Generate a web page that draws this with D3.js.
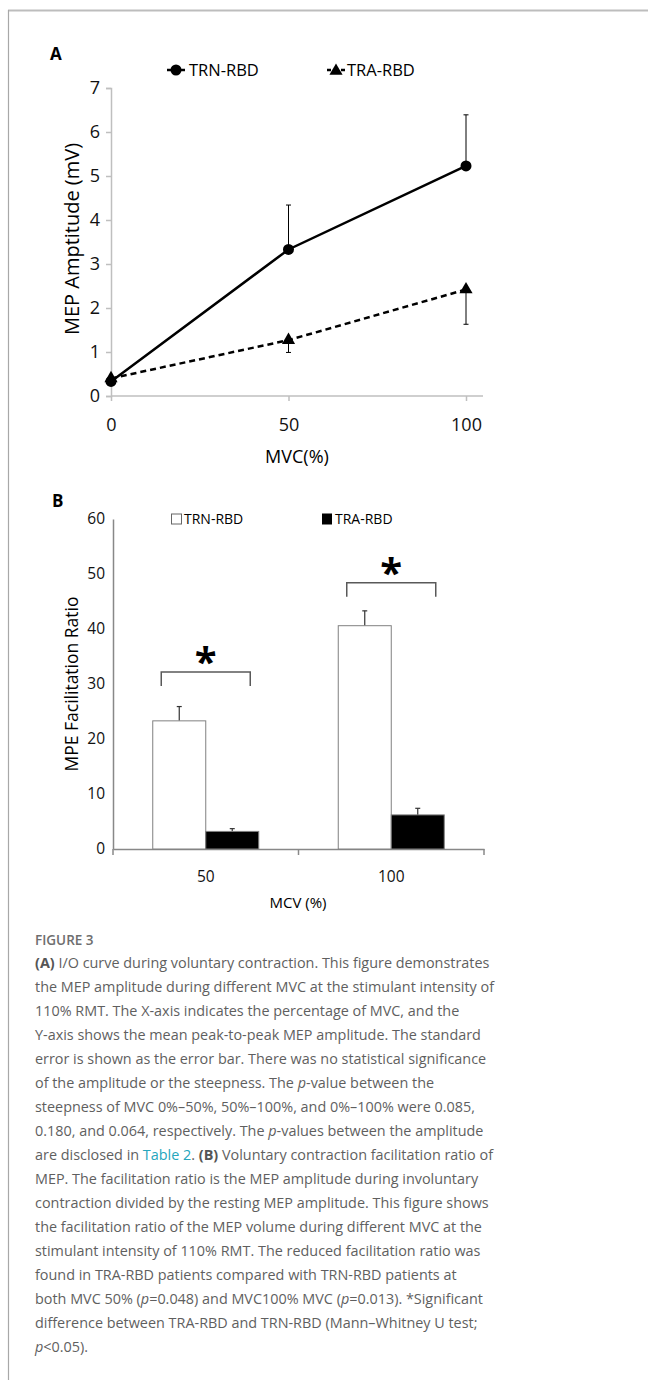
<!DOCTYPE html>
<html>
<head>
<meta charset="utf-8">
<script src="https://cdn.jsdelivr.net/npm/d3@7"></script>
<style>
  body { margin: 0; background: #fff; }
  svg { display: block; }
</style>
</head>
<body>
<div id="chart"></div>
<script>
// Panel A: MEP amplitude (mV) by MVC (%)
const mvcLevels = [0, 50, 100];
const trnAmp = [0.33, 3.33, 5.23];
const trnAmpErr = [0.08, 1.01, 1.16];
const traAmp = [0.40, 1.27, 2.42];
const traAmpErr = [0.08, 0.28, 0.79];
const ampTicks = [0, 1, 2, 3, 4, 5, 6, 7];

// Panel B: facilitation ratio by MCV (%)
const mcvGroups = ['50', '100'];
const groupNames = ['TRN-RBD', 'TRA-RBD'];
const trnRatio = [23.3, 40.6];
const trnRatioErr = [2.6, 2.7];
const traRatio = [3.2, 6.2];
const traRatioErr = [0.5, 1.2];
const ratioTicks = [0, 10, 20, 30, 40, 50, 60];
const bracketLevels = [32.2, 48.4];

const captionLines = [
  [['(A)', 'b'], [' I/O curve during voluntary contraction. This figure demonstrates']],
  [['the MEP amplitude during different MVC at the stimulant intensity of']],
  [['110% RMT. The X-axis indicates the percentage of MVC, and the']],
  [['Y-axis shows the mean peak-to-peak MEP amplitude. The standard']],
  [['error is shown as the error bar. There was no statistical significance']],
  [['of the amplitude or the steepness. The '], ['p', 'i'], ['-value between the']],
  [['steepness of MVC 0%\u201350%, 50%\u2013100%, and 0%\u2013100% were 0.085,']],
  [['0.180, and 0.064, respectively. The '], ['p', 'i'], ['-values between the amplitude']],
  [['are disclosed in '], ['Table 2', 'link'], ['. '], ['(B)', 'b'], [' Voluntary contraction facilitation ratio of']],
  [['MEP. The facilitation ratio is the MEP amplitude during involuntary']],
  [['contraction divided by the resting MEP amplitude. This figure shows']],
  [['the facilitation ratio of the MEP volume during different MVC at the']],
  [['stimulant intensity of 110% RMT. The reduced facilitation ratio was']],
  [['found in TRA-RBD patients compared with TRN-RBD patients at']],
  [['both MVC 50% ('], ['p', 'i'], ['=0.048) and MVC100% MVC ('], ['p', 'i'], ['=0.013). *Significant']],
  [['difference between TRA-RBD and TRN-RBD (Mann\u2013Whitney U test;']],
  [['p', 'i'], ['<0.05).']]
];

const font = "'Open Sans', sans-serif";
const svg = d3.select('#chart').append('svg')
    .attr('width', 648)
    .attr('height', 1380)
    .style('font-family', font);

// frame
svg.append('line')
    .attr('x1', 8).attr('x2', 648).attr('y1', 10.5).attr('y2', 10.5)
    .attr('stroke', '#bdbdbd').attr('stroke-width', 2);
svg.append('line')
    .attr('x1', 8.5).attr('x2', 8.5).attr('y1', 10).attr('y2', 1380)
    .attr('stroke', '#a8a8a8').attr('stroke-width', 1.2);

// ---------- Panel A ----------
const xA = d3.scaleLinear().domain([0, 100]).range([111, 466]);
const yA = d3.scaleLinear().domain([0, 7]).range([396, 88]);
const gA = svg.append('g');

gA.append('text')
    .attr('x', 50).attr('y', 60)
    .attr('font-size', 17).attr('font-weight', 'bold')
    .text('A');

const axA_x = gA.append('g')
    .attr('transform', `translate(0,${yA(0)})`)
    .call(d3.axisBottom(xA).tickValues(mvcLevels).tickSize(5).tickPadding(17));
axA_x.select('.domain').remove();
gA.append('line')
    .attr('x1', xA(0)).attr('x2', xA(104.8))
    .attr('y1', yA(0)).attr('y2', yA(0))
    .attr('stroke', '#bfbfbf').attr('stroke-width', 1.5);

const axA_y = gA.append('g')
    .attr('transform', `translate(${xA(0)},0)`)
    .call(d3.axisLeft(yA).tickValues(ampTicks).tickSize(5).tickPadding(6).tickFormat(d3.format('d')));

[axA_x, axA_y].forEach(ax => {
    ax.selectAll('line').attr('stroke', '#bfbfbf').attr('stroke-width', 1.5);
    ax.selectAll('path').attr('stroke', '#bfbfbf').attr('stroke-width', 1.5);
    ax.selectAll('text').attr('font-size', 18).attr('fill', '#111').style('font-family', font);
});

gA.append('text')
    .attr('transform', 'translate(72,239) rotate(-90)')
    .attr('text-anchor', 'middle')
    .attr('dy', '0.35em')
    .attr('font-size', 20)
    .text('MEP Amptitude (mV)');

gA.append('text')
    .attr('x', 297).attr('y', 457)
    .attr('text-anchor', 'middle')
    .attr('dy', '0.35em')
    .attr('font-size', 18)
    .text('MVC(%)');

const lineA = d3.line()
    .x((d, i) => xA(mvcLevels[i]))
    .y(d => yA(d));

// error bars (TRN up, TRA down)
function errBars(vals, errs, dir) {
    vals.forEach((v, i) => {
        const x = xA(mvcLevels[i]);
        const y2 = yA(v + dir * errs[i]);
        gA.append('line')
            .attr('x1', x).attr('x2', x).attr('y1', yA(v)).attr('y2', y2)
            .attr('stroke', '#000').attr('stroke-width', 1);
        gA.append('line')
            .attr('x1', x - 2.5).attr('x2', x + 2.5).attr('y1', y2).attr('y2', y2)
            .attr('stroke', '#000').attr('stroke-width', 1);
    });
}
errBars(trnAmp, trnAmpErr, 1);
errBars(traAmp, traAmpErr, -1);

gA.append('path')
    .datum(traAmp)
    .attr('d', lineA)
    .attr('fill', 'none')
    .attr('stroke', '#000')
    .attr('stroke-width', 2.5)
    .attr('stroke-dasharray', '6,4');

gA.append('path')
    .datum(trnAmp)
    .attr('d', lineA)
    .attr('fill', 'none')
    .attr('stroke', '#000')
    .attr('stroke-width', 2.5);

const tri = d3.symbol().type(d3.symbolTriangle).size(75);
gA.selectAll('.tra-pt')
    .data(traAmp)
    .join('path')
    .attr('class', 'tra-pt')
    .attr('transform', (d, i) => `translate(${xA(mvcLevels[i])},${yA(d)})`)
    .attr('d', tri)
    .attr('fill', '#000');

gA.selectAll('.trn-pt')
    .data(trnAmp)
    .join('circle')
    .attr('class', 'trn-pt')
    .attr('cx', (d, i) => xA(mvcLevels[i]))
    .attr('cy', d => yA(d))
    .attr('r', 5.5)
    .attr('fill', '#000');

// legend A
const legA = gA.append('g').attr('transform', 'translate(0,70)');
legA.append('line').attr('x1', 167).attr('x2', 185).attr('stroke', '#000').attr('stroke-width', 2.5);
legA.append('circle').attr('cx', 176).attr('r', 5.5).attr('fill', '#000');
legA.append('text').attr('x', 189).attr('dy', '0.35em').attr('font-size', 16.5).text(groupNames[0]);
legA.append('line').attr('x1', 327).attr('x2', 345).attr('stroke', '#000').attr('stroke-width', 2.5)
    .attr('stroke-dasharray', '4,10');
legA.append('path').attr('transform', 'translate(336,1)').attr('d', tri).attr('fill', '#000');
legA.append('text').attr('x', 347).attr('dy', '0.35em').attr('font-size', 16.5).text(groupNames[1]);

// ---------- Panel B ----------
const xB = d3.scaleBand().domain(mcvGroups).range([113, 484]);
const bw = xB.bandwidth();
const xSub = d3.scaleBand().domain(groupNames).range([bw / 2 - 53, bw / 2 + 53]);
const yB = d3.scaleLinear().domain([0, 60]).range([849, 519]);
const gB = svg.append('g');

gB.append('text')
    .attr('x', 52).attr('y', 507)
    .attr('font-size', 17).attr('font-weight', 'bold')
    .text('B');

const axB_y = gB.append('g')
    .attr('transform', `translate(113,0)`)
    .call(d3.axisLeft(yB).tickValues(ratioTicks).tickSize(0).tickPadding(8).tickSizeOuter(0));
axB_y.select('.domain').attr('stroke', '#888').attr('stroke-width', 1.5);
axB_y.selectAll('text').attr('font-size', 15.5).attr('fill', '#111').style('font-family', font);

const axB_x = gB.append('g')
    .attr('transform', `translate(0,${yB(0)})`)
    .call(d3.axisBottom(xB).tickSize(0).tickPadding(21.5).tickSizeOuter(0));
axB_x.select('.domain').attr('stroke', '#888').attr('stroke-width', 1.5);
axB_x.selectAll('text').attr('font-size', 15.5).attr('fill', '#111').style('font-family', font);
// category separators as tick marks
const sepVals = [113, 113 + bw, 113 + 2 * bw];
axB_x.selectAll('.sep')
    .data(sepVals)
    .join('line')
    .attr('class', 'sep')
    .attr('x1', d => d).attr('x2', d => d)
    .attr('y1', 0).attr('y2', 6)
    .attr('stroke', '#888').attr('stroke-width', 1.5);

gB.append('text')
    .attr('transform', 'translate(72,684) rotate(-90)')
    .attr('text-anchor', 'middle')
    .attr('dy', '0.35em')
    .attr('font-size', 17.5)
    .text('MPE Facilitation Ratio');

gB.append('text')
    .attr('x', 298).attr('y', 903)
    .attr('text-anchor', 'middle')
    .attr('dy', '0.35em')
    .attr('font-size', 15)
    .text('MCV (%)');

const barData = [];
mcvGroups.forEach((g, i) => {
    barData.push({g, s: groupNames[0], v: trnRatio[i], e: trnRatioErr[i], fill: '#fff'});
    barData.push({g, s: groupNames[1], v: traRatio[i], e: traRatioErr[i], fill: '#000'});
});

// error bars drawn first so the bar covers the stem base
barData.forEach(d => {
    const cx = xB(d.g) + xSub(d.s) + xSub.bandwidth() / 2;
    const yTop = yB(d.v + d.e);
    gB.append('line')
        .attr('x1', cx).attr('x2', cx).attr('y1', yB(d.v)).attr('y2', yTop)
        .attr('stroke', '#333').attr('stroke-width', 1.2);
    gB.append('line')
        .attr('x1', cx - 2.5).attr('x2', cx + 2.5).attr('y1', yTop).attr('y2', yTop)
        .attr('stroke', '#333').attr('stroke-width', 1.2);
});

gB.selectAll('.bar')
    .data(barData)
    .join('rect')
    .attr('class', 'bar')
    .attr('x', d => xB(d.g) + xSub(d.s))
    .attr('y', d => yB(d.v))
    .attr('width', xSub.bandwidth())
    .attr('height', d => yB(0) - yB(d.v))
    .attr('fill', d => d.fill)
    .attr('stroke', '#808080')
    .attr('stroke-width', 1);

// significance brackets
mcvGroups.forEach((g, i) => {
    const cx = xB(g) + bw / 2;
    const yb = yB(bracketLevels[i]);
    gB.append('path')
        .attr('d', `M${cx - 44.5},${yb + 14}V${yb}H${cx + 44.5}V${yb + 14}`)
        .attr('fill', 'none')
        .attr('stroke', '#595959')
        .attr('stroke-width', 1.5);
    gB.append('text')
        .attr('x', cx).attr('y', yb + 4)
        .attr('text-anchor', 'middle')
        .attr('font-size', 40)
        .attr('font-weight', 'bold')
        .text('*');
});

// legend B
const legB = gB.append('g').attr('transform', 'translate(0,519)');
legB.append('rect').attr('x', 171.5).attr('y', -5).attr('width', 10).attr('height', 10)
    .attr('fill', '#fff').attr('stroke', '#666').attr('stroke-width', 1);
legB.append('text').attr('x', 184).attr('dy', '0.35em').attr('font-size', 14).text(groupNames[0]);
legB.append('rect').attr('x', 322).attr('y', -5.5).attr('width', 10).attr('height', 11)
    .attr('fill', '#000');
legB.append('text').attr('x', 335).attr('dy', '0.35em').attr('font-size', 14).text(groupNames[1]);

// ---------- Caption ----------
const cap = svg.append('g').attr('fill', '#5f5f5f');
cap.append('text')
    .attr('x', 35).attr('y', 945)
    .attr('font-size', 13.5)
    .attr('font-weight', 600)
    .attr('fill', '#6e6e6e')
    .text('FIGURE 3');

captionLines.forEach((segs, i) => {
    const t = cap.append('text')
        .attr('x', 35)
        .attr('y', 968 + i * 24)
        .attr('font-size', 14.4);
    segs.forEach(([txt, st]) => {
        const ts = t.append('tspan').text(txt);
        if (st === 'b') ts.attr('font-weight', 'bold').attr('fill', '#555');
        if (st === 'i') ts.attr('font-style', 'italic');
        if (st === 'link') ts.attr('fill', '#26a6bd');
    });
});
</script>
</body>
</html>
